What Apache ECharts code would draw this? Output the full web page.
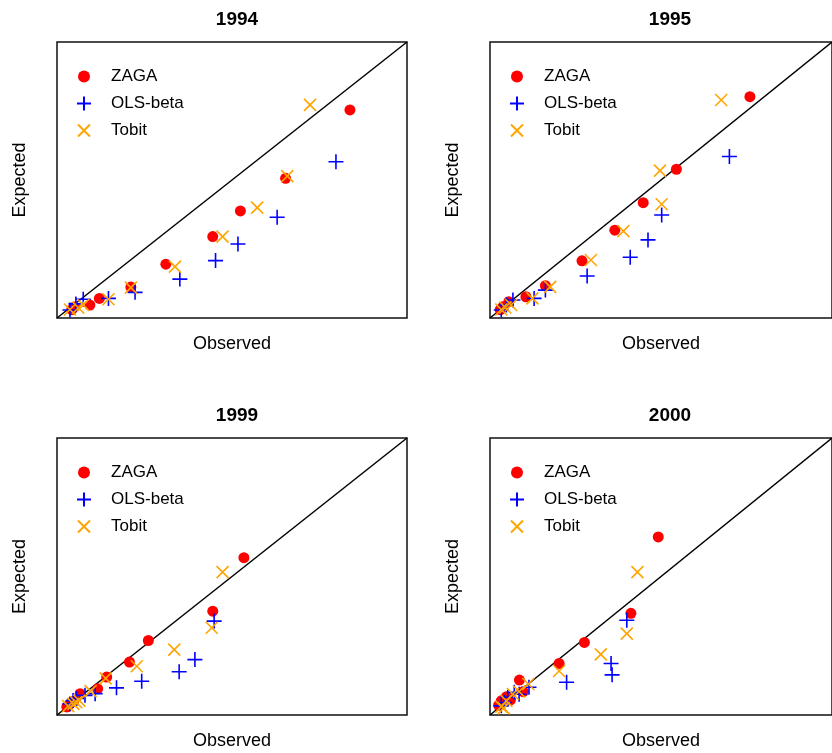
<!DOCTYPE html>
<html><head><meta charset="utf-8">
<script src="https://cdn.jsdelivr.net/npm/echarts@6/dist/echarts.min.js"></script>
<style>html,body{margin:0;padding:0;background:#fff}#c{width:832px;height:753px}</style>
</head><body><div id="c"></div>
<script>
const years = ['1994', '1995', '1999', '2000'];
const seriesNames = ['ZAGA', 'OLS-beta', 'Tobit'];
const diagonal = [[0, 0], [100, 100]];

const zaga1994 = [[83.7,75.4],[65.3,50.6],[52.4,38.8],[44.5,29.5],[31.1,19.5],[21.1,11.2],[12.1,7.1],[9.4,4.7],[5.0,4.0],[4.2,3.0]];
const ols1994 = [[79.7,56.6],[62.9,36.5],[51.7,26.8],[45.3,20.8],[35.1,14.1],[22.3,9.3],[14.7,7.1],[7.5,6.8],[5.4,5.1],[3.7,2.9]];
const tobit1994 = [[72.3,77.2],[65.8,51.4],[57.2,40.0],[47.3,29.5],[33.7,18.6],[21.1,11.0],[14.7,6.8],[7.5,4.7],[6.1,3.7],[3.7,3.1]];

const zaga1995 = [[76.0,80.2],[54.5,53.9],[44.8,41.8],[36.5,31.8],[26.9,20.7],[16.2,11.7],[10.5,7.7],[5.5,5.9],[3.8,4.1],[3.0,3.0]];
const ols1995 = [[70.0,58.5],[50.2,37.3],[46.2,28.3],[41.0,22.0],[28.4,15.2],[16.2,10.1],[12.9,7.1],[6.7,6.5],[4.8,4.7],[3.3,2.9]];
const tobit1995 = [[67.6,79.0],[49.7,53.4],[50.2,41.2],[39.0,31.5],[29.5,21.0],[17.6,11.3],[12.4,7.1],[6.2,4.7],[4.5,3.8],[3.3,3.1]];

const zaga1999 = [[53.4,56.8],[44.5,37.5],[26.1,26.9],[20.7,19.1],[14.2,13.7],[11.6,9.5],[6.6,7.7],[4.8,5.0],[3.7,4.0],[2.8,2.9]];
const ols1999 = [[44.9,33.9],[39.4,20.0],[34.9,15.6],[24.2,12.2],[17.0,9.8],[10.9,7.7],[8.0,7.1],[5.6,6.0],[4.6,5.2],[3.7,4.0]];
const tobit1999 = [[47.3,51.6],[44.2,31.5],[33.5,23.6],[22.8,17.6],[13.9,13.2],[9.6,8.6],[6.4,5.2],[5.5,4.6],[4.7,4.0],[3.2,3.2]];

const zaga2000 = [[49.2,64.3],[41.2,36.7],[27.6,26.2],[20.2,18.6],[8.6,12.6],[9.7,8.4],[6.0,5.5],[4.8,6.6],[3.3,5.1],[2.5,3.5]];
const ols2000 = [[40.0,34.2],[35.4,18.6],[35.7,14.5],[22.4,11.8],[11.4,10.0],[8.5,7.5],[7.1,8.2],[5.2,6.4],[4.2,4.5],[3.3,3.3]];
const tobit2000 = [[43.1,51.6],[40.0,29.4],[32.4,21.9],[20.2,15.9],[11.2,11.2],[8.5,8.5],[6.7,7.6],[4.8,5.1],[4.0,2.5],[3.3,3.0]];

const panelData = [
  [zaga1994, ols1994, tobit1994],
  [zaga1995, ols1995, tobit1995],
  [zaga1999, ols1999, tobit1999],
  [zaga2000, ols2000, tobit2000]
];

const FONT = 'Liberation Sans, Arial, sans-serif';
const grids = [
  {left: 57, top: 42, width: 350, height: 276},
  {left: 490, top: 42, width: 350, height: 276},
  {left: 57, top: 438, width: 350, height: 277},
  {left: 490, top: 438, width: 350, height: 277}
];
const colors = ['#ff0000', '#0000ff', '#ffa500'];
const symbols = ['circle', 'path://M0,7L14,7M7,0L7,14', 'path://M0,0L12,12M0,12L12,0'];
const legendIcons = [
  'path://M0,0M14,14M1,7A6,6,0,1,1,13,7A6,6,0,1,1,1,7Z',
  'path://M0,7L14,7M7,0L7,14',
  'path://M0,0M14,14M1,1L13,13M1,13L13,1'
];
const sizes = [11, 15, 12];

const option = {
  animation: false,
  backgroundColor: '#fff',
  title: [], legend: [], grid: [], xAxis: [], yAxis: [], series: []
};

grids.forEach((g, i) => {
  option.grid.push(Object.assign({show: true, borderColor: '#111', borderWidth: 1.5, backgroundColor: 'transparent'}, g));
  option.title.push({
    text: years[i], left: g.left + g.width / 2, top: g.top - 37, textAlign: 'center',
    textStyle: {fontFamily: FONT, fontSize: 19, fontWeight: 'bold', color: '#000'}
  });
  option.xAxis.push({
    type: 'value', gridIndex: i, min: 0, max: 100,
    name: 'Observed', nameLocation: 'middle', nameGap: 17,
    nameTextStyle: {fontFamily: FONT, fontSize: 18, color: '#000'},
    axisLine: {show: false}, axisTick: {show: false}, axisLabel: {show: false}, splitLine: {show: false}
  });
  option.yAxis.push({
    type: 'value', gridIndex: i, min: 0, max: 100,
    name: 'Expected', nameLocation: 'middle', nameGap: 28,
    nameTextStyle: {fontFamily: FONT, fontSize: 18, color: '#000'},
    axisLine: {show: false}, axisTick: {show: false}, axisLabel: {show: false}, splitLine: {show: false}
  });
  option.legend.push({
    orient: 'vertical', left: g.left + 14, top: g.top + 21,
    itemWidth: 14, itemHeight: 14, itemGap: 10,
    data: seriesNames.map((n, k) => ({name: n, icon: legendIcons[k]})),
    textStyle: {fontFamily: FONT, fontSize: 17, color: '#000', lineHeight: 17, padding: [0, 0, 0, 15]},
    selectedMode: false
  });
  option.series.push({
    type: 'line', xAxisIndex: i, yAxisIndex: i, data: diagonal, symbol: 'none',
    lineStyle: {color: '#000', width: 1.5}, silent: true, z: 1
  });
  seriesNames.forEach((n, k) => {
    option.series.push({
      name: n, type: 'scatter', xAxisIndex: i, yAxisIndex: i,
      data: panelData[i][k], symbol: symbols[k], symbolSize: sizes[k],
      itemStyle: k === 0 ? {color: colors[k], opacity: 1} : {color: colors[k], borderColor: colors[k], borderWidth: 1.6, opacity: 1},
      z: 2 + k
    });
  });
});

const chart = echarts.init(document.getElementById('c'), null, {renderer: 'canvas'});
chart.setOption(option);
</script>
</body></html>
